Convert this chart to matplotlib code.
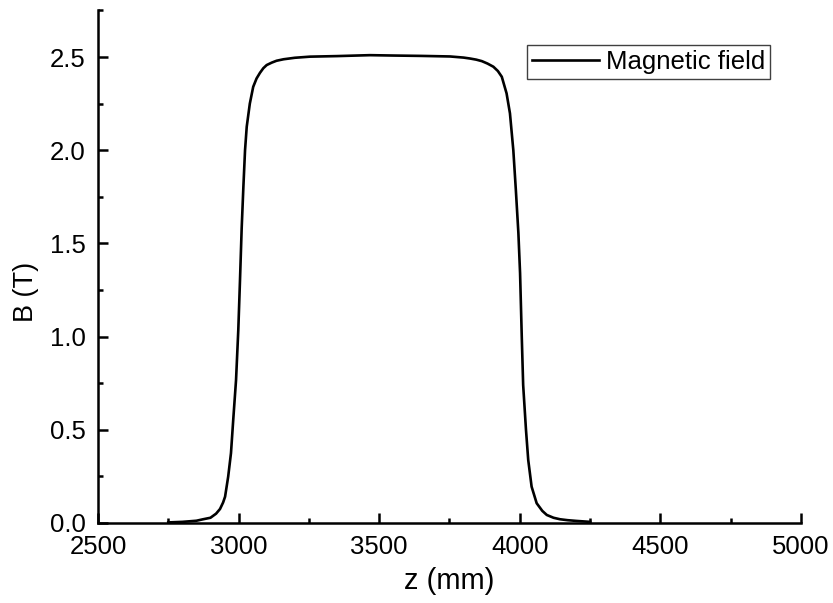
import matplotlib
matplotlib.use('Agg')
from matplotlib import pyplot as plt
from matplotlib.ticker import MultipleLocator

# field profile along the axis
z_mm = [2750, 2800, 2850, 2874, 2900, 2920, 2934, 2945, 2952, 2963, 2973,
        2981, 2991, 2999, 3005, 3011, 3017, 3023, 3029, 3040, 3052, 3064,
        3076, 3088, 3100, 3118, 3135, 3160, 3200, 3254, 3350, 3467, 3550,
        3650, 3752, 3800, 3823, 3845, 3865, 3885, 3906, 3922, 3936, 3953,
        3965, 3977, 3986, 3995, 4001, 4007, 4012, 4022, 4030, 4042, 4060,
        4080, 4096, 4120, 4143, 4170, 4202, 4250]
b_tesla = [0.003, 0.006, 0.012, 0.02, 0.028, 0.05, 0.075, 0.11, 0.141, 0.248,
           0.375, 0.553, 0.767, 1.035, 1.30, 1.58, 1.80, 2.0, 2.126, 2.25,
           2.34, 2.385, 2.415, 2.44, 2.457, 2.47, 2.48, 2.488, 2.496, 2.502,
           2.505, 2.51, 2.508, 2.506, 2.503, 2.497, 2.492, 2.486, 2.478,
           2.465, 2.448, 2.425, 2.394, 2.305, 2.198, 2.0, 1.786, 1.556, 1.34,
           1.0, 0.74, 0.5, 0.338, 0.195, 0.106, 0.065, 0.043, 0.028, 0.02,
           0.015, 0.011, 0.006]

plt.rcParams['font.family'] = ['Liberation Sans', 'DejaVu Sans']
plt.rcParams['font.size'] = 18.5

fig = plt.figure(figsize=(8.33, 6.03), dpi=100)
ax = fig.add_axes([0.1176, 0.1327, 0.844, 0.850])

ax.plot(z_mm, b_tesla, color='black', lw=1.9, label='Magnetic field')

ax.set_xlim(2500, 5000)
ax.set_ylim(0, 2.75)
ax.xaxis.set_major_locator(MultipleLocator(500))
ax.xaxis.set_minor_locator(MultipleLocator(250))
ax.yaxis.set_major_locator(MultipleLocator(0.5))
ax.yaxis.set_minor_locator(MultipleLocator(0.25))
ax.yaxis.set_major_formatter(lambda v, p: f'{v:.1f}')

for s in ['top', 'right']:
    ax.spines[s].set_visible(False)
for s in ['left', 'bottom']:
    ax.spines[s].set_linewidth(1.8)

ax.tick_params(which='both', direction='in', width=1.8)
ax.tick_params(which='major', length=7, pad=9)
ax.tick_params(which='minor', length=3.6)

ax.set_xlabel('z (mm)', fontsize=21)
ax.set_ylabel('B (T)', fontsize=19.5)
ax.xaxis.set_label_coords(0.5, -0.086)
ax.yaxis.set_label_coords(-0.084, 0.45)

leg = ax.legend(loc='upper right', bbox_to_anchor=(0.956, 0.9325),
                borderaxespad=0, fancybox=False, framealpha=1,
                edgecolor='#404040', borderpad=0.2, handlelength=2.6,
                handletextpad=0.25, fontsize=18.5)
leg.get_frame().set_linewidth(1.0)

fig.savefig('out.png', dpi=100)
